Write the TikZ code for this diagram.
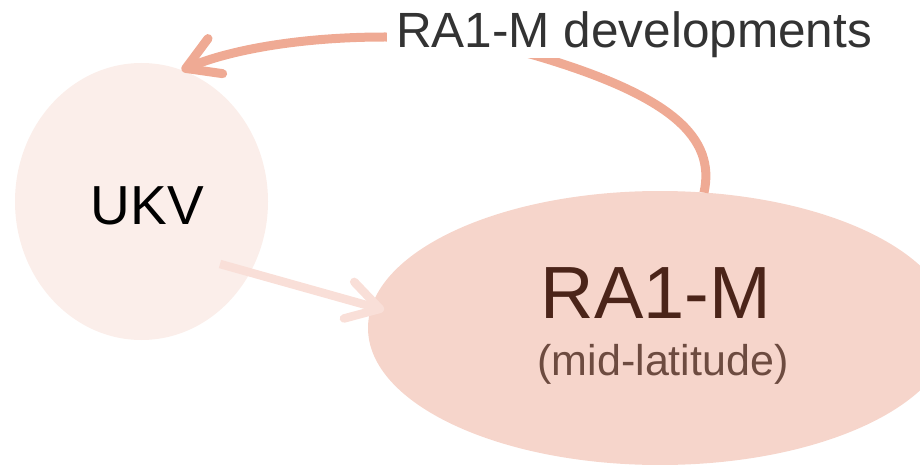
\documentclass[tikz,border=0pt]{standalone}
\usepackage{fontspec}
\setmainfont{Liberation Sans}
\usetikzlibrary{arrows.meta,calc,shapes.geometric}

\definecolor{ukvfill}{HTML}{FBEEEA}
\definecolor{rafill}{HTML}{F6D5CB}
\definecolor{devline}{HTML}{EFAA94}
\definecolor{feedline}{HTML}{F9DFD8}
\definecolor{ratext}{HTML}{4B2419}
\definecolor{subtext}{HTML}{6D4B40}
\definecolor{devtext}{HTML}{333333}

\begin{document}
\begin{tikzpicture}[x=1pt,y=-1pt,
  blob/.style={ellipse, draw=none, inner sep=0pt, outer sep=0pt},
  barb/.style={-{Straight Barb[length=32pt, width=38pt, round]}},
  devarrow/.style={draw=devline, line width=9pt, barb},
  feedarrow/.style={draw=feedline, line width=8.5pt, barb},
  fsize/.style={font=\fontsize{#1}{#1}\selectfont}]
\useasboundingbox (0,0) rectangle (920,465);
\clip (0,0) rectangle (920,465);

% model domains
\node[blob, fill=ukvfill, minimum width=253pt, minimum height=277pt] (ukv) at (141.5,201.5) {};
\node[blob, fill=rafill, minimum width=584pt, minimum height=274pt] (ra) at (660,328) {};

% UKV drives RA1-M
\draw[feedarrow] ($(ukv.center)+(78.5,62.5)$) -- ($(ra.center)+(-276,-18)$);

% developments feed back into UKV (passing behind the label)
\draw[devarrow] (ra.72) .. controls (716,138) and (672,96) .. (537,56)
  .. controls (490,42) and (430,37) .. (385,37)
  .. controls (300,37) and (230,50) .. (ukv.73);

\node[anchor=base, fill=white, inner xsep=9pt, inner ysep=0pt, fsize=49.5, text=devtext]
  (dev) at (634,48) {RA1-M developments};

% labels
\node[anchor=base, inner sep=0pt, fsize=55, text=black] (ukvlabel) at (147.5,224) {UKV};
\node[anchor=base, inner sep=0pt, fsize=74, text=ratext] (ralabel) at (656,318) {RA1-M};
\node[anchor=base, inner sep=0pt, fsize=43, text=subtext] (rasub) at (663,375) {(mid-latitude)};
\end{tikzpicture}
\end{document}
